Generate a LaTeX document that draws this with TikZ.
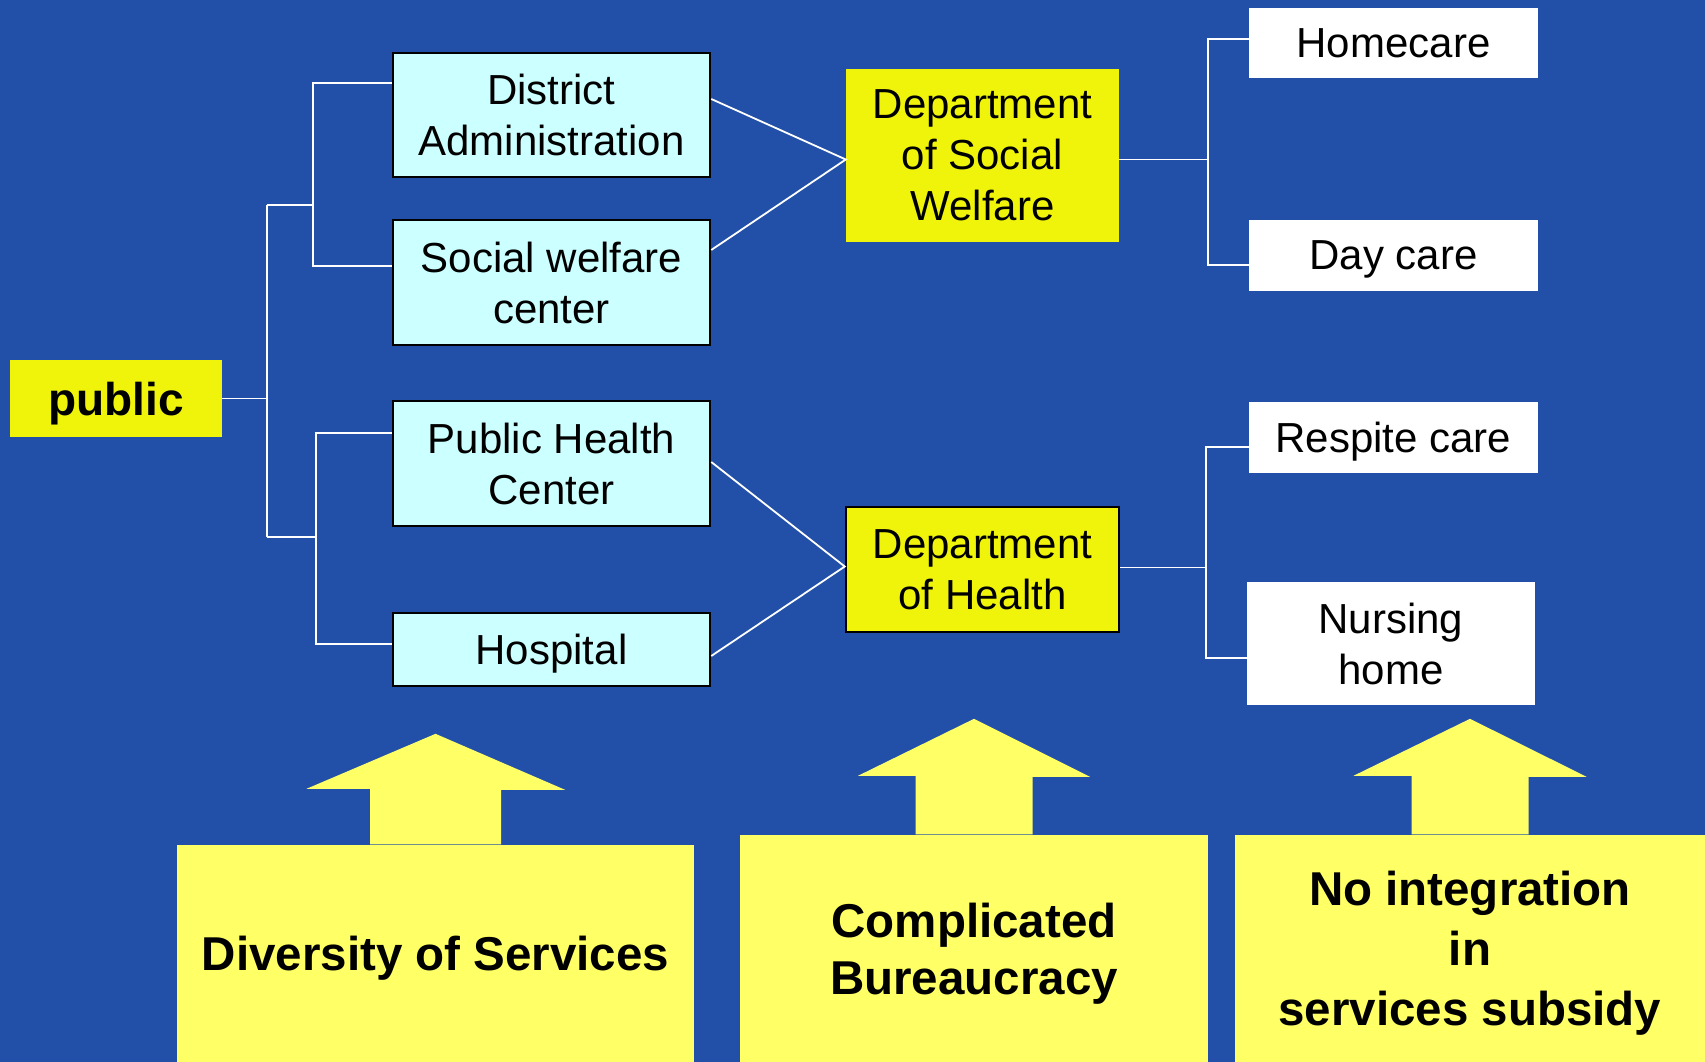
\documentclass[tikz,border=0pt]{standalone}
\usepackage{fontspec}
\setmainfont{Liberation Sans}
\definecolor{bgblue}{RGB}{34,80,168}
\definecolor{cyanbox}{RGB}{204,255,255}
\definecolor{ybox}{RGB}{240,244,10}
\definecolor{pale}{RGB}{255,255,102}
\tikzset{
  base/.style={rectangle, inner sep=0pt, align=center, font=\fontsize{42}{51}\selectfont},
  cyanbox/.style={base, fill=cyanbox, draw=black, line width=2.5pt},
  dept/.style={base, fill=ybox},
  leaf/.style={base, fill=white},
  flat/.style={text depth=0pt},
  conn/.style={draw=white, line width=1.8pt},
  bottombox/.style={rectangle, inner sep=0pt, align=center, fill=pale, text depth=0pt, font=\bfseries\fontsize{47.5}{57}\selectfont},
  arrowfill/.style={fill=pale}
}
\begin{document}
\begin{tikzpicture}[x=1pt,y=-1pt]
\useasboundingbox (0,0) rectangle (1705,1062);
\fill[bgblue] (0,0) rectangle (1705,1062);

% left
\node[dept, flat, minimum width=212pt, minimum height=77pt, font=\bfseries\fontsize{46}{55}\selectfont] (public) at (116,398.5) {public};
\node[cyanbox, minimum width=317pt, minimum height=124pt] (dist) at (551.5,115) {District\\Administration};
\node[cyanbox, minimum width=317pt, minimum height=125pt] (swc) at (551.5,282.5) {Social welfare\\center};
\node[cyanbox, minimum width=317pt, minimum height=125pt] (phc) at (551.5,463.5) {Public Health\\Center};
\node[cyanbox, flat, minimum width=317pt, minimum height=73pt] (hosp) at (551.5,649.5) {Hospital};

% departments
\node[dept, minimum width=273pt, minimum height=173pt] (dsw) at (982.5,155.5) {Department\\of Social\\Welfare};
\node[dept, draw=black, line width=2.5pt, minimum width=273pt, minimum height=125pt] (dh) at (982.5,569.5) {Department\\of Health};

% leaves
\node[leaf, flat, minimum width=289pt, minimum height=70pt] (home) at (1393.5,43) {Homecare};
\node[leaf, flat, minimum width=289pt, minimum height=71pt] (day) at (1393.5,255.5) {Day care};
\node[leaf, flat, minimum width=289pt, minimum height=71pt] (resp) at (1393.5,437.5) {Respite care};
\node[leaf, minimum width=288pt, minimum height=123pt] (nurs) at (1391,643.5) {Nursing\\home};

% junction coordinates
\coordinate (ja) at (267,205);
\coordinate (jb) at (267,537);
\coordinate (ka) at (313,83);
\coordinate (kb) at (313,266);
\coordinate (kc) at (316,433);
\coordinate (kd) at (316,644);
\coordinate (ma) at (1208,39);
\coordinate (mb) at (1208,265);
\coordinate (mc) at (1206,447);
\coordinate (md) at (1206,658);

% left tree
\draw[conn] (public.east) -- (public.east -| ja);
\draw[conn] (ja) -- (jb);
\draw[conn] (ja) -- (ja -| ka);
\draw[conn] (jb) -- (jb -| kc);
\draw[conn] (dist.west |- ka) -- (ka) -- (kb) -- (swc.west |- kb);
\draw[conn] (phc.west |- kc) -- (kc) -- (kd) -- (hosp.west |- kd);

% to departments
\draw[conn] ([yshift=16pt]dist.east) -- ([yshift=-4pt]dsw.west) -- ([yshift=32.5pt]swc.east);
\draw[conn] ([yshift=1.5pt]phc.east) -- ([yshift=3pt]dh.west) -- ([yshift=-6.5pt]hosp.east);

% right trees
\draw[conn] ([yshift=-4pt]dsw.east) -- ([yshift=-4pt]dsw.east -| ma);
\draw[conn] (home.west |- ma) -- (ma) -- (mb) -- (day.west |- mb);
\draw[conn] ([yshift=2pt]dh.east) -- ([yshift=2pt]dh.east -| mc);
\draw[conn] (resp.west |- mc) -- (mc) -- (md) -- (nurs.west |- md);

% bottom boxes
\node[bottombox, minimum width=517pt, minimum height=217pt] (b1) at (435.5,953.5) {Diversity of Services};
\node[bottombox, minimum width=468pt, minimum height=227pt] (b2) at (974,948.5) {Complicated\\Bureaucracy};
\node[bottombox, minimum width=470pt, minimum height=227pt, font=\bfseries\fontsize{47.5}{60}\selectfont] (b3) at (1470,948.5) {No integration\\in\\services subsidy};

% block arrows
\fill[arrowfill] ([xshift=-65.5pt,yshift=0.5pt]b1.north) -- ++(0,-55.5) -- ++(-63.5,0) -- ([yshift=111pt]b1.north) -- ([xshift=129.5pt,yshift=55pt]b1.north) -- ++(-64,0) -- ([xshift=65.5pt,yshift=0.5pt]b1.north) -- cycle;
\fill[arrowfill] ([xshift=-58.5pt,yshift=0.5pt]b2.north) -- ++(0,-58.5) -- ++(-57.5,0) -- ([yshift=116pt]b2.north) -- ([xshift=116pt,yshift=58pt]b2.north) -- ++(-57.5,0) -- ([xshift=58.5pt,yshift=0.5pt]b2.north) -- cycle;
\fill[arrowfill] ([xshift=-58.5pt,yshift=0.5pt]b3.north) -- ++(0,-58.5) -- ++(-58,0) -- ([yshift=116pt]b3.north) -- ([xshift=116.5pt,yshift=58pt]b3.north) -- ++(-58,0) -- ([xshift=58.5pt,yshift=0.5pt]b3.north) -- cycle;
\end{tikzpicture}
\end{document}
